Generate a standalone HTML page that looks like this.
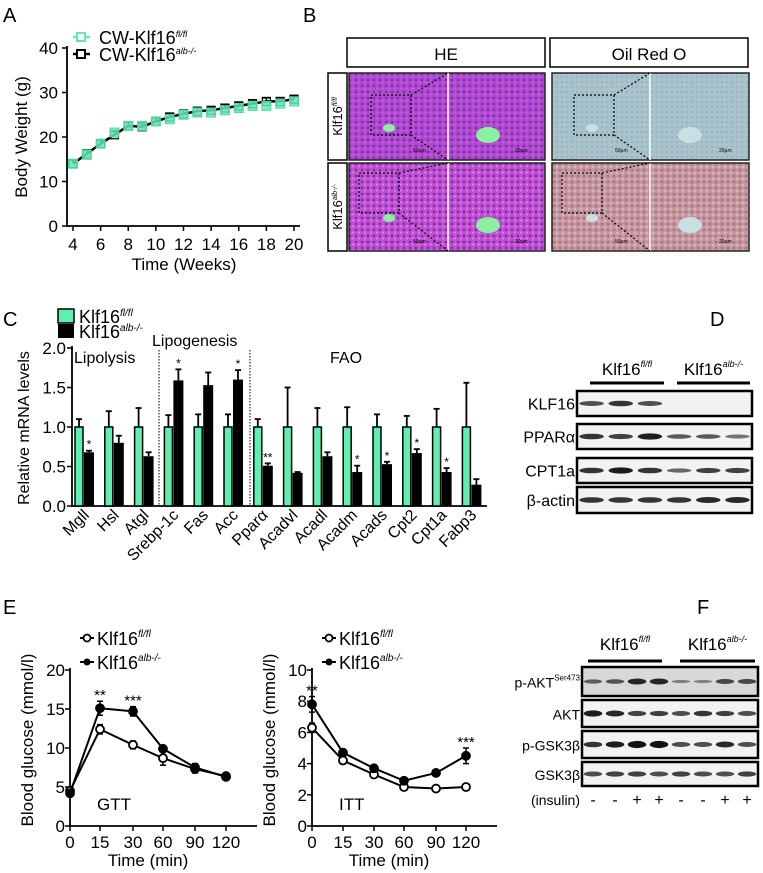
<!DOCTYPE html>
<html><head><meta charset="utf-8"><style>
body{margin:0;background:#fff}
svg{display:block;font-family:"Liberation Sans",Arial,sans-serif}
</style></head><body>
<svg id="fig" width="763" height="873" viewBox="0 0 763 873">
<defs>
<pattern id="heTex" width="6" height="6" patternUnits="userSpaceOnUse"><rect width="6" height="6" fill="#b24ad0"/><circle cx="2" cy="2" r="1.2" fill="#6a2bb0"/><circle cx="5" cy="4.5" r="0.8" fill="#d070d8"/></pattern>
<pattern id="heTex2" width="6" height="6" patternUnits="userSpaceOnUse"><rect width="6" height="6" fill="#c050d0"/><circle cx="2" cy="2" r="1.2" fill="#6a2bb0"/><circle cx="5" cy="4.5" r="1" fill="#e088e0"/></pattern>
<pattern id="oroTex" width="5" height="5" patternUnits="userSpaceOnUse"><rect width="5" height="5" fill="#a9c3cc"/><circle cx="2" cy="2" r="0.8" fill="#7f9fae"/></pattern>
<pattern id="oroTex2" width="6" height="6" patternUnits="userSpaceOnUse"><rect width="6" height="6" fill="#c69aa2"/><circle cx="2" cy="2" r="1.3" fill="#b06a78"/><circle cx="5" cy="5" r="1" fill="#d8c4c8"/></pattern>
</defs>
<g id="labels" font-size="20" fill="#000">
<text x="3" y="22">A</text>
<text x="303" y="22">B</text>
<text x="3" y="326">C</text>
<text x="710" y="326">D</text>
<text x="3" y="614">E</text>
<text x="697" y="614">F</text>
</g>
<g id="pa"></g>
<g id="pb"></g>
<g id="pc"></g>
<g id="pd"></g>
<g id="pe"></g>
<g id="pf"></g>
</svg>
<script>
// Panel A data
const weeks=[4,5,6,7,8,9,10,11,12,13,14,15,16,17,18,19,20];
const bwFl=[14,16,18.5,21,22.5,22.5,23.5,24,25,25.5,25.5,26,26.5,27,27,27.5,28];
const bwKo=[14,16.2,18.5,20.5,22.5,22.3,23.5,24.5,25.2,25.8,26,26.5,27,27.5,28,28,28.5];
const bwYTicks=[0,10,20,30,40];
const bwXTicks=[4,6,8,10,12,14,16,18,20];
// Panel C data
const genes=["Mgll","Hsl","Atgl","Srebp-1c","Fas","Acc","Pparα","Acadvl","Acadl","Acadm","Acads","Cpt2","Cpt1a","Fabp3"];
const mrnaFl=[1,1,1,1,1,1,1,1,1,1,1,1,1,1];
const mrnaFlErr=[0.1,0.2,0.24,0.15,0.16,0.16,0.1,0.5,0.24,0.25,0.16,0.14,0.23,0.56];
const mrnaKo=[0.68,0.8,0.63,1.59,1.53,1.6,0.51,0.42,0.63,0.43,0.53,0.67,0.43,0.27];
const mrnaKoErr=[0.02,0.09,0.05,0.14,0.16,0.12,0.03,0.01,0.05,0.08,0.03,0.05,0.05,0.07];
const mrnaStars=["*","","","*","","*","**","","","*","*","*","*",""];
const mrnaYTicks=[0,0.5,1,1.5,2];
// Panel E data
const timeCats=["0","15","30","60","90","120"];
const gttFl=[4.5,12.4,10.4,8.7,7.3,6.4];
const gttFlErr=[0.3,0.6,0.5,0.9,0.5,0.3];
const gttKo=[4.2,15.1,14.7,9.9,7.5,6.3];
const gttKoErr=[0.3,0.9,0.6,0.4,0.5,0.3];
const gttStars=["","**","***","","",""];
const gttYTicks=[0,5,10,15,20];
const ittFl=[6.3,4.2,3.3,2.5,2.4,2.5];
const ittFlErr=[0.3,0.2,0.2,0.2,0.15,0.2];
const ittKo=[7.8,4.7,3.7,2.9,3.4,4.5];
const ittKoErr=[0.5,0.2,0.2,0.2,0.2,0.5];
const ittStars=["**","","","","","***"];
const ittYTicks=[0,2,4,6,8,10];

const NS="http://www.w3.org/2000/svg";
function el(p,tag,a,txt){const e=document.createElementNS(NS,tag);for(const k in a)e.setAttribute(k,a[k]);if(txt!==undefined)e.textContent=txt;p.appendChild(e);return e;}
function line(p,x1,y1,x2,y2,w,c,extra){const e=el(p,'line',Object.assign({x1,y1,x2,y2,stroke:c||'#000','stroke-width':w||1.5},extra||{}));return e;}
function errbar(p,x,y1,y2,hw,w){line(p,x,y1,x,y2,w||1.5);line(p,x-hw,y2,x+hw,y2,w||1.5);}

// ===== Panel A =====
(function(){
const g=document.getElementById('pa');
const X=v=>73+(v-4)*(294-73)/16, Y=v=>226-v*178/40;
line(g,67,46,67,227,1.8);line(g,66,226,300,226,1.8);
bwYTicks.forEach(t=>{line(g,62,Y(t),67,Y(t),1.5);const e=el(g,'text',{x:58,y:Y(t)+6,'font-size':17,'text-anchor':'end'},t);

});
bwXTicks.forEach(t=>{line(g,X(t),226,X(t),231,1.5);const e=el(g,'text',{x:X(t),y:250,'font-size':17,'text-anchor':'middle'},t);

});
const xt=el(g,'text',{x:184,y:270,'font-size':17,'text-anchor':'middle'},'Time (Weeks)');


const yt=el(g,'text',{x:0,y:0,'font-size':17,'text-anchor':'middle',transform:'translate(27,137) rotate(-90)'},'Body Weight (g)');


el(g,'polyline',{points:weeks.map((w,i)=>X(w)+','+Y(bwKo[i])).join(' '),fill:'none',stroke:'#000','stroke-width':2.5});
weeks.forEach((w,i)=>{errbar(g,X(w),Y(bwKo[i]),Y(bwKo[i]+0.8),4,1.5);
const r=el(g,'rect',{x:X(w)-4,y:Y(bwKo[i])-4,width:8,height:8,fill:'none',stroke:'#000','stroke-width':1.2});


const s=el(g,'rect',{x:X(w)-4.5,y:Y(bwFl[i])-4.5,width:9,height:9,fill:'#62e8b0','fill-opacity':0.85,stroke:'#50d89f','stroke-width':1});

});
// legend
line(g,73,37,90,37,2.5,'#62e8b0');el(g,'rect',{x:77,y:33,width:8,height:8,fill:'#fff',stroke:'#62e8b0','stroke-width':2});
line(g,73,54,90,54,2.5);el(g,'rect',{x:77,y:50,width:8,height:8,fill:'#fff',stroke:'#000','stroke-width':2});
const l1=el(g,'text',{x:99,y:44,'font-size':18},'CW-Klf16');el(l1,'tspan',{dy:-7,'font-size':9,'font-style':'italic'},'fl/fl');


const l2=el(g,'text',{x:99,y:61,'font-size':18},'CW-Klf16');el(l2,'tspan',{dy:-7,'font-size':9,'font-style':'italic'},'alb-/-');


})();

// ===== Panel B =====
(function(){
const g=document.getElementById('pb');
const h1=el(g,'rect',{x:347,y:38,width:198,height:29,fill:'#fff',stroke:'#000','stroke-width':1.5});


el(g,'text',{x:446,y:60,'font-size':17,'text-anchor':'middle'},'HE');
const h2=el(g,'rect',{x:550,y:38,width:198,height:29,fill:'#fff',stroke:'#000','stroke-width':1.5});


el(g,'text',{x:649,y:60,'font-size':17,'text-anchor':'middle'},'Oil Red O');
const rows=[[73,87,'fl/fl'],[163,88,'alb-/-']];
const fills=[['url(#heTex)','url(#oroTex)'],['url(#heTex2)','url(#oroTex2)']];
rows.forEach((r,ri)=>{
 const lb=el(g,'rect',{x:328,y:r[0],width:19,height:r[1],fill:'#fff',stroke:'#000','stroke-width':1.5});
 
 
 const t=el(g,'text',{x:0,y:0,'font-size':13,'text-anchor':'middle',transform:`translate(342,${r[0]+r[1]/2}) rotate(-90)`},'Klf16');
 el(t,'tspan',{dy:-5,'font-size':7,'font-style':'italic'},r[2]);
 [[349,196,448],[552,197,650]].forEach((c,ci)=>{
  const im=el(g,'rect',{x:c[0],y:r[0],width:c[1],height:r[1],fill:fills[ri][ci],stroke:'#222','stroke-width':1.5});
  
  
  line(g,c[2],r[0],c[2],r[0]+r[1],1.5,'#fff');
  const bx=c[0]+(ri?10:22), by=r[0]+(ri?10:22);
  el(g,'rect',{x:bx,y:by,width:40,height:40,fill:'none',stroke:'#000','stroke-width':1.2,'stroke-dasharray':'2,2'});
  line(g,bx+40,by,c[2],r[0],1.2,'#000',{'stroke-dasharray':'2,2'});
  line(g,bx+40,by+40,c[2],r[0]+r[1],1.2,'#000',{'stroke-dasharray':'2,2'});
  const blob=ci===0?'#8af0a0':'#c8e0e2';
  el(g,'ellipse',{cx:c[0]+40,cy:r[0]+55,rx:6,ry:4,fill:blob});
  el(g,'ellipse',{cx:c[2]+40,cy:r[0]+62,rx:12,ry:8,fill:blob});
  el(g,'text',{x:c[2]-35,y:r[0]+r[1]-8,'font-size':5},'50μm');
  el(g,'text',{x:c[0]+c[1]-30,y:r[0]+r[1]-8,'font-size':5},'20μm');
 });
});
})();

// ===== Panel C =====
(function(){
const g=document.getElementById('pc');
const Y=v=>506-v*79, X=i=>79+i*29.8;
line(g,72,346,72,507,1.8);line(g,71,506,487,506,1.8);
mrnaYTicks.forEach(t=>{line(g,67,Y(t),72,Y(t),1.5);const e=el(g,'text',{x:66,y:Y(t)+6,'font-size':17,'text-anchor':'end'},t.toFixed(1));

});
const yt=el(g,'text',{x:0,y:0,'font-size':16,'text-anchor':'middle',transform:'translate(29,428) rotate(-90)'},'Relative mRNA levels');


line(g,159,350,159,506,1,'#000',{'stroke-dasharray':'1.5,1.5'});
line(g,250,350,250,506,1,'#000',{'stroke-dasharray':'1.5,1.5'});
el(g,'text',{x:74,y:363,'font-size':16},'Lipolysis');
el(g,'text',{x:152,y:346,'font-size':16},'Lipogenesis');
el(g,'text',{x:330,y:363,'font-size':16},'FAO');
genes.forEach((gn,i)=>{
 const x=X(i);
 errbar(g,x,Y(mrnaFl[i]),Y(mrnaFl[i]+mrnaFlErr[i]),3,1.8);
 const b=el(g,'rect',{x:x-4,y:Y(mrnaFl[i]),width:8,height:mrnaFl[i]*79,fill:'#5ff0b0',stroke:'#000','stroke-width':1.5});
 
 
 const xk=x+10;
 errbar(g,xk,Y(mrnaKo[i]),Y(mrnaKo[i]+mrnaKoErr[i]),3,1.8);
 const k=el(g,'rect',{x:xk-5,y:Y(mrnaKo[i]),width:10,height:mrnaKo[i]*79,fill:'#000'});
 
 
 if(mrnaStars[i])el(g,'text',{x:xk,y:Y(mrnaKo[i]+mrnaKoErr[i])-2,'font-size':12,'text-anchor':'middle'},mrnaStars[i]);
 const t=el(g,'text',{x:0,y:0,'font-size':16,'text-anchor':'end',transform:`translate(${x+11},${516}) rotate(-45)`},gn);
 
 
});
el(g,'rect',{x:58,y:309,width:16,height:14,fill:'#5ff0b0',stroke:'#000','stroke-width':1.5});
el(g,'rect',{x:58,y:324,width:16,height:14,fill:'#000'});
const l1=el(g,'text',{x:79,y:323,'font-size':18},'Klf16');el(l1,'tspan',{dy:-7,'font-size':10,'font-style':'italic'},'fl/fl');


const l2=el(g,'text',{x:79,y:338,'font-size':18},'Klf16');el(l2,'tspan',{dy:-7,'font-size':10,'font-style':'italic'},'alb-/-');


})();

// ===== Blots =====
function blot(g,x0,x1,rows,lanes,intens){
 rows.forEach((r,ri)=>{
  const bx=el(g,'rect',{x:x0,y:r[1],width:x1-x0,height:r[2]-r[1],fill:ri===0&&lanes===8?'#d8d8d8':'#f2f2f2',stroke:'#000','stroke-width':2.5});
  
  
  const lab=el(g,'text',{x:x0-2,y:(r[1]+r[2])/2+6,'font-size':lanes===8?14:16,'text-anchor':'end'},r[0]);
  if(r[3])el(lab,'tspan',{dy:-7,'font-size':8},r[3]);
  
  
  const w=(x1-x0)/lanes;
  intens[ri].forEach((v,li)=>{if(v>0)el(g,'ellipse',{cx:x0+w*(li+0.5),cy:(r[1]+r[2])/2,rx:w*0.42,ry:1.5+v*1.6,fill:'#111','fill-opacity':0.4+v*0.55});});
 });
}
function groupHdr(g,a,b,c,d,ty,by){
 line(g,a,by,b,by,3);line(g,c,by,d,by,3);
 const t1=el(g,'text',{x:(a+b)/2,y:ty,'font-size':17,'text-anchor':'middle'},'Klf16');el(t1,'tspan',{dy:-8,'font-size':9,'font-style':'italic'},'fl/fl');
 const t2=el(g,'text',{x:(c+d)/2,y:ty,'font-size':17,'text-anchor':'middle'},'Klf16');el(t2,'tspan',{dy:-8,'font-size':9,'font-style':'italic'},'alb-/-');
}
(function(){
const g=document.getElementById('pd');
groupHdr(g,590,664,677,750,375,383);
blot(g,577,752,[['KLF16',391,416],['PPARα',424,449],['CPT1a',458,483],['β-actin',487,513]],6,
[[0.6,0.8,0.6,0,0,0],[0.8,0.7,1,0.5,0.5,0.3],[0.8,1,0.8,0.4,0.7,0.7],[0.8,0.8,0.8,0.8,0.9,0.9]]);
})();
(function(){
const g=document.getElementById('pf');
groupHdr(g,588,662,680,755,650,661);
blot(g,582,758,[['p-AKT',667,696,'Ser473'],['AKT',700,727],['p-GSK3β',731,758],['GSK3β',762,786]],8,
[[0.4,0.5,0.9,0.9,0.1,0.05,0.6,0.6],[1,0.9,0.7,0.7,0.6,0.8,0.7,0.6],[0.8,1,1.3,1.3,0.6,0.6,0.9,0.6],[0.6,0.7,0.7,0.6,0.7,0.6,0.6,0.7]]);
const l=el(g,'text',{x:580,y:805,'font-size':14,'text-anchor':'end'},'(insulin)');


['-','-','+','+','-','-','+','+'].forEach((s,i)=>el(g,'text',{x:593+i*22,y:805,'font-size':16,'text-anchor':'middle'},s));
})();

// ===== Panel E =====
function glucose(g,ax,xs,yMax,ticks,fl,flE,ko,koE,stars,label,axEnd){
 const Y=v=>826-v*156/yMax, X=i=>xs[i];
 line(g,ax,668,ax,827,1.8);line(g,ax-1,826,axEnd,826,1.8);
 ticks.forEach(t=>{line(g,ax-5,Y(t),ax,Y(t),1.5);const e=el(g,'text',{x:ax-5,y:Y(t)+6,'font-size':17,'text-anchor':'end'},t);
 
 });
 timeCats.forEach((c,i)=>{line(g,X(i),826,X(i),831,1.5);const e=el(g,'text',{x:X(i),y:848,'font-size':17,'text-anchor':'middle'},c);
 
 });
 const xt=el(g,'text',{x:(xs[0]+xs[5])/2,y:866,'font-size':17,'text-anchor':'middle'},'Time (min)');
 
 
 const yt=el(g,'text',{x:0,y:0,'font-size':17,'text-anchor':'middle',transform:`translate(${ax-37},740) rotate(-90)`},'Blood glucose (mmol/l)');
 
 
 el(g,'text',{x:ax+27,y:810,'font-size':17},label);
 [[fl,flE,'#fff'],[ko,koE,'#000']].forEach(s=>{
  el(g,'polyline',{points:s[0].map((v,i)=>X(i)+','+Y(v)).join(' '),fill:'none',stroke:'#000','stroke-width':2});
  s[0].forEach((v,i)=>{line(g,X(i),Y(v-s[1][i]),X(i),Y(v+s[1][i]),1.5);line(g,X(i)-3,Y(v+s[1][i]),X(i)+3,Y(v+s[1][i]),1.5);line(g,X(i)-3,Y(v-s[1][i]),X(i)+3,Y(v-s[1][i]),1.5);
  const c=el(g,'circle',{cx:X(i),cy:Y(v),r:4,fill:s[2],stroke:'#000','stroke-width':1.8});
  
  });
 });
 stars.forEach((s,i)=>{if(s)el(g,'text',{x:X(i),y:Y(Math.max(fl[i]+flE[i],ko[i]+koE[i]))-1,'font-size':15,'text-anchor':'middle'},s);});
 const lx=ax+22;
 line(g,lx-12,638,lx+2,638,2);el(g,'circle',{cx:lx-5,cy:638,r:3.5,fill:'#fff',stroke:'#000','stroke-width':1.8});
 line(g,lx-12,662,lx+2,662,2);el(g,'circle',{cx:lx-5,cy:662,r:3.5,fill:'#000'});
 const l1=el(g,'text',{x:lx+5,y:645,'font-size':18},'Klf16');el(l1,'tspan',{dy:-8,'font-size':10,'font-style':'italic'},'fl/fl');
 
 
 const l2=el(g,'text',{x:lx+5,y:669,'font-size':18},'Klf16');el(l2,'tspan',{dy:-8,'font-size':10,'font-style':'italic'},'alb-/-');
 
 
}
(function(){
const g=document.getElementById('pe');
const g1=el(g,'g',{});


glucose(g1,70,[70,100,133,163,195,226],20,gttYTicks,gttFl,gttFlErr,gttKo,gttKoErr,gttStars,'GTT',257);
const g2=el(g,'g',{});


glucose(g2,312,[312,343,374,404,436,466],10,ittYTicks,ittFl,ittFlErr,ittKo,ittKoErr,ittStars,'ITT',497);
})();
</script>
</body></html>
